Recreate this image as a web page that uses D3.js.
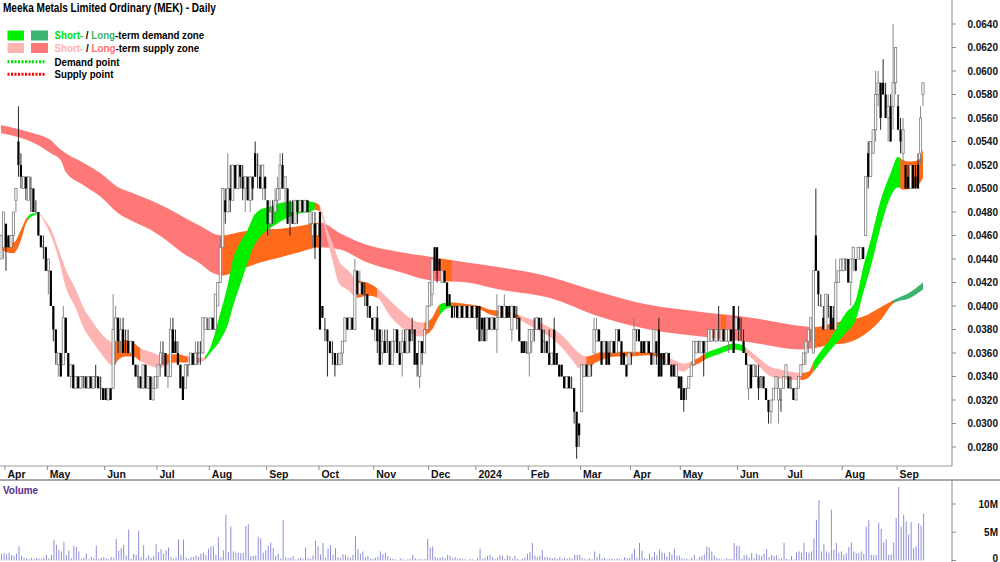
<!DOCTYPE html>
<html>
<head>
<meta charset="utf-8">
<script src="https://cdn.jsdelivr.net/npm/d3@7"></script>
<style>
  body { margin: 0; background: #fff; }
  svg { display: block; font-family: "Liberation Sans", Arial, sans-serif; }
</style>
</head>
<body>
<div id="container"></div>
<script>
// prices are in units of A$0.001, volume in millions
const title = "Meeka Metals Limited Ordinary (MEK) - Daily";
const startDate = "2023-03-30";
const holidays = ["2023-04-07", "2023-04-10", "2023-04-25", "2023-06-12", "2023-12-25", "2023-12-26",
  "2024-01-01", "2024-01-26", "2024-03-29", "2024-04-01", "2024-04-25", "2024-06-10"];

// [open, high, low, close] per trading day
const bars = [
  [44,46,44,46],[45,48,44,48],
  [47,47,43,45],[46,46,45,45],[45,46,45,46],[46,48,45,48],[49,50,48,50],[54,57,51,52],[52,53,50,51],[50,51,50,51],[51,51,49,50],[49,51,49,51],
  [50,51,48,50],[50,50,48,48],[48,49,48,48],[48,48,46,46],[46,46,45,45],[45,46,44,45],[45,45,43,43],
  [43,44,41,44],[43,43,40,40],[40,40,37,38],[38,38,35,36],[35,36,34,36],[36,36,34,34],[35,40,35,39],[39,39,36,36],[36,36,34,34],[34,35,33,35],
  [35,35,33,33],[33,34,33,34],[34,34,33,33],[33,34,33,34],[34,34,33,34],[34,34,33,33],[33,34,33,34],[34,34,33,33],[33,34,33,34],[34,35,33,34],
  [34,34,33,33],[33,34,32,33],[33,33,32,32],
  [33,33,32,32],[32,33,32,33],[33,33,32,32],[33,41,33,38],[37,40,35,39],[39,39,36,37],[37,39,36,38],[38,39,36,36],[37,38,36,37],[37,38,36,36],
  [36,37,36,37],[37,37,35,35],[35,35,34,34],[34,35,33,34],[34,34,33,33],[33,35,33,35],[35,35,33,33],[33,34,33,34],[34,34,32,32],[32,34,32,33],[33,34,33,34],
  [34,35,33,35],[35,37,34,36],[36,37,35,36],[36,36,34,34],[34,35,33,35],[34,39,34,38],[38,39,36,36],[37,38,36,36],[36,37,35,35],[35,35,33,33],
  [34,34,32,32],[33,35,33,35],[35,35,34,35],[35,36,35,36],[36,36,35,35],[35,37,35,36],[36,37,35,36],[36,37,35,36],[36,39,36,39],[38,39,38,39],[38,39,38,38],
  [38,39,38,39],[39,39,38,38],[38,41,38,41],[40,42,40,42],[42,46,42,45],[45,50,45,50],[49,50,47,48],[48,53,48,50],[50,52,48,49],[49,52,49,52],
  [52,52,50,50],[50,52,50,52],[52,52,50,51],[51,52,49,50],[50,51,48,51],[51,51,49,49],[49,51,48,51],[51,51,49,50],[53,54,51,51],[52,53,50,52],
  [51,52,50,50],[50,52,49,52],[51,51,49,50],
  [49,49,46,47],[47,49,46,48],[48,49,47,48],[48,50,47,49],[49,51,48,50],[50,53,49,52],[52,53,50,50],[50,51,48,51],[50,50,47,47],[48,49,46,48],
  [48,49,47,47],[47,49,47,49],[49,49,47,48],[48,49,48,49],[49,49,48,48],[48,49,48,49],[49,49,48,48],[47,48,46,48],[46,48,45,47],[47,48,44,45],[46,47,45,47],
  [48,48,38,38],[40,40,39,39],[38,39,37,38],[38,38,34,37],[37,37,36,36],[36,37,35,36],[36,36,34,35],[35,36,35,35],[35,36,35,36],[36,37,35,37],
  [37,39,37,39],[39,39,38,38],[38,39,38,39],[39,39,38,38],[38,44,38,43],[43,43,41,41],[41,43,41,42],[42,42,41,41],[41,42,40,41],[41,41,39,40],
  [40,40,39,39],[39,39,38,38],
  [38,39,37,39],[39,40,36,37],[38,38,35,35],[36,38,35,37],[37,38,36,36],[37,38,36,37],[37,37,35,35],[35,37,35,37],[37,38,36,38],[38,38,36,36],
  [36,37,35,35],[36,38,34,37],[37,38,36,36],[36,38,36,38],[38,38,36,37],[38,39,37,38],[38,38,35,35],[36,36,34,35],[34,37,33,37],[37,37,35,36],
  [36,38,36,38],[38,40,38,40],
  [40,42,40,42],[41,44,40,44],[45,45,43,43],[45,45,42,43],[44,44,43,43],[42,43,42,43],[43,43,42,42],[42,42,40,40],[41,41,40,40],[40,40,39,39],
  [40,40,39,40],[40,40,39,39],[39,40,39,40],[40,40,39,39],[39,40,39,40],[40,40,39,39],[39,40,39,40],[40,40,39,39],[39,40,39,40],
  [40,40,38,39],[40,40,37,37],[39,39,37,38],[39,39,37,37],[38,39,37,39],[39,39,38,38],[38,39,38,39],[39,39,38,38],[38,41,36,39],[39,40,39,40],
  [40,40,39,39],[39,41,39,40],[40,40,39,39],[40,40,39,39],[38,40,37,40],[40,40,39,39],[39,40,38,39],[39,39,37,37],[37,37,36,36],[37,37,36,36],[36,37,36,36],
  [36,38,34,38],[37,38,36,38],[38,39,37,38],[38,39,38,39],[39,39,38,38],[38,39,36,36],[37,38,36,37],[37,37,36,36],[36,38,35,35],[35,36,35,36],
  [38,39,35,35],[36,36,35,35],[35,35,34,34],[35,35,34,34],[34,34,33,33],[33,34,33,34],[34,34,33,33],[33,34,33,33],[33,33,30,31],[31,31,27,28],[30,30,28,29],
  [31,35,31,35],[34,35,34,35],[35,35,34,34],[34,35,34,35],[35,35,34,35],[36,39,36,38],[37,39,37,38],[38,38,37,37],[37,37,35,35],[36,37,36,37],
  [37,37,35,35],[36,37,35,35],[36,37,36,37],[37,37,36,36],[36,38,36,38],[38,38,37,37],[37,37,35,35],[36,36,35,35],[35,35,34,34],[35,36,35,36],
  [36,36,35,36],[36,39,36,38],[38,38,37,38],[38,38,37,37],[37,37,36,36],[37,37,36,36],[36,37,36,37],[37,37,36,36],[36,36,35,35],[36,38,35,38],
  [37,37,35,36],[38,39,34,34],[36,36,34,34],[36,36,35,35],[35,36,35,36],[36,36,35,35],[35,35,34,34],[35,35,34,34],[34,35,34,35],[34,34,33,33],
  [34,34,32,32],[33,33,31,32],[33,33,32,33],[33,34,33,34],[34,35,34,35],[35,37,35,37],[36,37,36,37],[37,37,36,37],[36,37,36,37],[37,37,34,36],
  [36,37,36,37],[37,38,37,38],[37,38,37,38],[38,38,37,38],[37,38,37,38],[38,40,37,38],[37,38,37,38],[38,38,37,37],[37,38,37,38],[37,38,36,38],
  [38,38,37,37],[40,40,36,36],[38,39,38,39],
  [39,40,37,38],[38,39,37,38],[37,38,36,36],[36,36,35,35],[33,35,32,35],[35,35,33,33],[34,35,34,35],[34,35,34,34],[34,35,32,33],[34,34,33,34],
  [34,34,33,33],[33,33,32,32],[32,32,30,31],[31,32,30,32],[32,33,32,33],[33,34,33,34],[32,34,30,33],[32,33,31,32],[33,34,33,34],
  [34,35,34,35],[34,34,33,33],[33,34,33,33],[33,33,32,32],[32,33,32,33],[33,34,33,34],[34,35,34,35],[35,36,35,36],[36,37,35,37],[37,38,36,38],
  [38,39,37,39],[36,43,36,43],[46,50,43,43],[43,43,40,41],[40,41,40,40],[39,40,38,38],[38,41,38,41],[40,41,39,40],[40,40,38,38],[39,40,38,38],
  [38,44,38,42],[42,43,42,43],[43,44,43,44],
  [43,44,43,44],[44,44,43,44],[44,44,42,42],[42,44,40,44],[44,45,43,45],[44,44,43,43],[44,45,44,45],[44,45,44,45],[45,45,44,44],[46,51,46,51],
  [53,54,50,51],[51,54,51,54],[53,55,53,55],[55,60,54,58],[58,60,57,59],[59,59,55,56],[59,61,58,58],[58,59,56,56],[56,58,54,57],[57,58,54,54],
  [57,64,55,59],[59,62,58,62],
  [57,58,55,55],[55,56,53,54],[53,56,52,55],[52,52,50,50],[51,52,50,50],[50,52,50,52],[52,52,50,50],[51,52,50,50],[52,53,50,50],[53,57,52,56],
  [58,59,57,59]
];

const volumes = [
  1.2,1.3,1.1,1.4,1.0,0.8,1.2,2.5,0.8,0.5, 0.4,0.3,0.5,0.3,0.4,0.4,0.3,0.5,1.0,0.4,
  1.0,3.7,2.8,1.9,1.6,3.3,0.9,1.8,0.4,2.6, 2.4,1.6,0.3,0.5,1.2,0.2,0.6,0.4,2.6,0.3,
  0.5,0.6,0.4,0.3,0.6,0.5,3.8,1.7,2.2,2.8, 0.9,5.5,0.3,1.2,1.0,5.3,0.6,2.7,0.4,0.9,
  0.5,0.8,2.9,1.5,2.0,1.2,1.8,2.3,0.6,0.3, 0.5,3.7,1.0,3.7,0.5,0.3,0.6,0.6,0.9,0.7,
  1.2,1.4,0.9,2.1,2.5,2.5,1.0,4.1,0.6,1.8, 8.1,1.5,6.0,1.6,1.4,1.3,1.3,1.3,6.1,6.4,
  0.8,0.8,0.9,4.2,3.9,1.4,1.8,2.6,3.2,2.2, 0.8,1.2,0.4,7.2,0.6,0.4,0.5,0.8,0.2,0.4,
  0.5,0.3,2.3,0.4,0.3,0.9,3.5,2.5,1.1,3.1, 0.5,2.1,2.7,1.0,2.2,0.6,0.4,1.1,1.0,0.6,
  0.5,1.0,4.3,2.0,1.2,1.6,0.6,0.8,0.3,0.3, 0.5,0.7,1.6,1.1,1.4,0.8,0.4,0.3,0.2,0.1,
  0.4,0.2,0.1,0.2,0.3,1.0,0.4,0.2,0.3,0.2, 0.3,3.8,2.3,2.5,0.6,0.4,0.5,0.6,0.4,1.0,
  0.8,0.4,0.6,0.3,0.4,0.3,0.2,0.1,0.3,0.2, 0.1,0.4,2.1,0.3,0.5,0.8,1.0,0.6,0.3,0.5,
  1.0,0.8,0.3,0.9,0.8,0.3,0.8,0.3,0.2,0.3, 0.5,1.2,1.5,3.1,0.9,0.6,0.8,1.8,0.6,0.6,
  0.5,0.4,0.5,0.3,0.6,0.3,0.5,0.3,0.5,0.3, 1.0,1.0,1.0,0.5,0.3,0.2,0.4,0.2,1.6,0.6,
  1.2,0.3,0.5,0.2,0.3,0.3,0.2,0.4,0.3,0.2, 0.6,0.4,0.4,1.2,2.1,0.5,3.1,1.7,0.4,0.3,
  1.2,0.6,1.5,0.9,1.9,1.4,1.3,0.7,1.5,1.1, 2.1,0.8,0.9,0.4,0.3,0.3,0.2,0.5,1.0,0.2,
  0.6,0.8,1.1,2.5,2.3,1.6,0.9,0.5,0.3,0.2, 0.2,0.4,0.3,0.3,3.1,2.6,2.6,0.3,0.9,1.0,
  0.5,1.3,0.4,1.2,1.0,0.8,1.2,2.0,0.6,1.0, 0.8,0.9,0.3,0.4,3.1,0.3,0.2,0.8,0.2,1.4,
  1.6,1.3,3.1,1.5,1.4,1.6,3.9,7.2,10.7,1.6, 2.9,1.6,1.4,9.0,1.9,3.1,1.4,1.6,1.0,1.3,
  2.4,3.2,1.6,1.3,1.3,1.6,1.2,6.0,7.2,1.0, 1.0,1.0,6.7,5.6,3.2,3.7,1.0,1.1,3.2,7.5,
  13.0,6.0,8.1,6.9,4.6,6.8,2.2,2.5,6.6,6.2,8.3
];

// long-term zone edges, sampled at bar indices
const ltIdx = [0,8,13,20,24,26,33,40,47,53,60,67,73,80,85,89,96,104,113,120,128,136,147,160,172,187,200,220,240,260,281,301,321,326,333,340,346,353,358,365,370];
const ltTop = [55.4,55.0,54.7,54.1,53.3,53.0,52.2,51.3,50.1,49.6,49.0,48.3,47.6,46.8,46.2,46.0,46.3,46.5,46.6,46.8,47.1,46.2,45.2,44.6,44.2,43.7,43.3,42.5,41.2,40.1,39.5,39.0,38.3,38.2,38.5,38.8,39.1,39.9,40.5,41.2,42.0];
const ltBot = [54.7,54.3,53.9,53.0,52.4,51.4,50.3,49.3,47.9,47.2,46.5,45.5,44.5,43.6,42.8,42.6,43.1,43.7,44.2,44.6,45.0,44.8,43.7,42.9,42.2,42.0,41.4,40.7,39.1,38.0,37.4,36.9,36.3,36.4,36.7,36.9,37.5,38.8,40.2,40.7,41.4];
const ltStates = [[0,89,"supply"],[89,128,"neutral"],[128,177,"supply"],[177,181,"neutral"],[181,289,"supply"],
  [289,291,"neutral"],[291,326,"supply"],[326,358,"neutral"],[358,370,"demand"]];

// short-term zone edges
const stIdx = [0,2,5,8,10,13,15,18,20,23,26,30,33,37,40,43,45,47,50,53,56,60,64,67,71,75,78,81,84,88,91,93,96,99,101,104,107,110,113,117,120,124,126,128,131,133,136,139,143,147,151,156,160,164,168,170,173,176,179,181,186,192,196,200,204,208,214,220,224,227,230,232,235,238,242,247,252,260,267,270,274,276,280,283,288,294,297,301,305,309,313,317,321,324,326,333,339,343,346,349,353,357,360,362,365,368,370];
const stTop = [45.8,45.8,45.4,46.5,47.4,47.9,47.9,47.2,46.6,44.9,43.1,41.4,39.9,38.6,37.7,37.1,36.9,37.0,37.1,36.9,36.4,36.1,35.8,35.9,35.9,35.7,35.6,35.6,36.5,39.4,41.8,43.9,45.4,46.5,47.5,48.2,48.4,48.6,48.8,48.9,49.0,48.9,48.8,48.5,46.5,45.4,43.7,43.1,42.2,42.0,41.5,40.5,39.7,39.0,38.6,38.6,39.0,40.1,40.3,40.3,40.2,40.0,39.7,39.6,39.5,39.2,38.8,38.2,37.7,37.1,36.4,36.0,35.7,35.9,36.1,36.1,36.1,36.1,35.7,35.4,35.1,35.2,35.6,36.0,36.4,36.8,36.7,36.1,35.4,34.8,34.6,34.4,34.3,34.4,35.2,37.3,39.4,40.5,43.3,45.6,49.0,51.3,52.7,52.4,52.3,52.4,53.3];
const stBot = [44.8,44.6,44.5,45.6,47.0,47.7,47.8,46.9,46.0,44.1,41.6,39.8,38.2,36.9,36.0,35.2,34.9,35.4,35.7,35.7,35.3,34.9,34.7,35.1,35.2,35.2,35.2,35.3,36.0,37.1,38.4,39.9,41.8,43.7,44.9,45.9,46.5,46.9,47.3,47.7,47.9,48.0,48.2,48.0,45.6,43.9,41.8,41.4,40.7,40.9,40.7,39.2,38.3,37.7,37.4,37.5,38.0,39.2,39.8,39.9,39.8,39.7,39.3,39.1,39.1,38.8,38.1,37.4,36.7,36.0,35.2,34.7,34.6,35.1,35.5,35.7,35.7,35.8,35.3,34.8,34.4,34.7,35.1,35.5,35.9,36.3,36.2,35.6,34.7,34.0,33.8,33.7,33.7,33.9,34.4,36.3,37.7,38.8,41.1,43.3,46.7,49.3,50.1,49.9,50.0,50.3,50.9];
const stStates = [[0,11,"neutral"],[11,15,"demand"],[15,46,"supply"],[46,56,"neutral"],[56,66,"supply"],[66,75,"neutral"],
  [75,82,"supply"],[82,126,"demand"],[126,128,"neutral"],[128,143,"supply"],[143,151,"neutral"],[151,170,"supply"],
  [170,176,"neutral"],[176,181,"demand"],[181,208,"neutral"],[208,235,"supply"],[235,267,"neutral"],[267,277,"supply"],
  [277,283,"neutral"],[283,299,"demand"],[299,321,"supply"],[321,326,"neutral"],[326,361,"demand"],[361,370,"neutral"]];

// supply point marker: [bar index, low, high]
const supplyPoints = [[175, 42.4, 44.1]];

const priceTicks = [28,30,32,34,36,38,40,42,44,46,48,50,52,54,56,58,60,62,64];
const volumeTicks = [0, 5, 10];
const volumeTickLabels = ["0", "5M", "10M"];

const zoneColors = {
  short: { demand: "#00f000", supply: "#ffb4b4", neutral: "#ff6a1a" },
  long:  { demand: "#3cb371", supply: "#ff7878", neutral: "#ff6a1a" }
};

const W = 1000, H = 562;
const axisX = 952, priceBottom = 466, volTop = 480;

const svg = d3.select("#container").append("svg").attr("width", W).attr("height", H);
const defs = svg.append("defs");

function tradingDays(start, n) {
  const hol = new Set(holidays);
  const fmt = d3.timeFormat("%Y-%m-%d");
  const out = [];
  let d = d3.timeParse("%Y-%m-%d")(start);
  while (out.length < n) {
    const wd = d.getDay();
    if (wd !== 0 && wd !== 6 && !hol.has(fmt(d))) out.push(d);
    d = d3.timeDay.offset(d, 1);
  }
  return out;
}
const dates = tradingDays(startDate, bars.length);

const x = d3.scaleLinear().domain([0, bars.length - 1]).range([1, 923]);
const y = d3.scaleLinear().domain([28, 64]).range([447, 24]);
const yv = d3.scaleLinear().domain([0, 10]).range([560.5, 504]);

// zones
function drawZone(idx, top, bot, states, kind) {
  const pts = idx.map((b, i) => ({ b, top: top[i], bot: bot[i] }));
  const area = d3.area().x(d => x(d.b)).y0(d => y(d.bot)).y1(d => y(d.top)).curve(d3.curveMonotoneX);
  const last = bars.length - 1;
  states.forEach(([s, e, st], k) => {
    const id = `clip-${kind}-${k}`;
    const x0 = s === 0 ? 0 : x(s) - 0.3;
    const x1 = e >= last ? axisX : x(e) + 0.3;
    defs.append("clipPath").attr("id", id).append("rect")
      .attr("x", x0).attr("y", 0).attr("width", x1 - x0).attr("height", priceBottom);
    svg.append("path").attr("d", area(pts))
      .attr("fill", zoneColors[kind][st]).attr("clip-path", `url(#${id})`);
  });
}
drawZone(ltIdx, ltTop, ltBot, ltStates, "long");
drawZone(stIdx, stTop, stBot, stStates, "short");

svg.selectAll("line.spt").data(supplyPoints).join("line").attr("class", "spt")
  .attr("x1", d => x(d[0])).attr("x2", d => x(d[0])).attr("y1", d => y(d[1])).attr("y2", d => y(d[2]))
  .attr("stroke", "#ff2020").attr("stroke-width", 1.5).attr("stroke-dasharray", "2,1.5");

// candles
const up = d => d[3] > d[0];
const plot = svg.append("g");
plot.selectAll("line.wick").data(bars).join("line").attr("class", "wick")
  .attr("x1", (d, i) => x(i)).attr("x2", (d, i) => x(i))
  .attr("y1", d => y(d[1])).attr("y2", d => y(d[2]))
  .attr("stroke", d => up(d) ? "#7c7c7c" : "#111").attr("stroke-width", 0.9);
plot.selectAll("rect.body").data(bars).join("rect").attr("class", "body")
  .attr("x", (d, i) => x(i) - 1.1).attr("width", 2.2)
  .attr("y", d => y(Math.max(d[0], d[3])) - (d[0] === d[3] ? 0.5 : 0))
  .attr("height", d => Math.max(1, Math.abs(y(d[0]) - y(d[3]))))
  .attr("fill", d => up(d) ? "#fff" : (d[0] === d[3] ? "#555" : "#000"))
  .attr("stroke", d => up(d) ? "#7c7c7c" : "none").attr("stroke-width", 0.8);

// price axis
svg.append("line").attr("x1", axisX).attr("x2", axisX).attr("y1", 0).attr("y2", priceBottom).attr("stroke", "#8a8a8a");
svg.selectAll("line.ptick").data(priceTicks).join("line").attr("class", "ptick")
  .attr("x1", axisX).attr("x2", axisX + 4).attr("y1", d => y(d)).attr("y2", d => y(d)).attr("stroke", "#8a8a8a");
svg.selectAll("text.plabel").data(priceTicks).join("text").attr("class", "plabel")
  .attr("x", 998).attr("y", d => y(d) + 3.6).attr("text-anchor", "end")
  .attr("font-size", 10).attr("font-weight", "bold").attr("fill", "#111")
  .text(d => (d / 1000).toFixed(4));

// date band
svg.append("line").attr("x1", 0).attr("x2", axisX).attr("y1", priceBottom).attr("y2", priceBottom).attr("stroke", "#9a9a9a");
svg.append("line").attr("x1", 0).attr("x2", W).attr("y1", volTop).attr("y2", volTop).attr("stroke", "#555");
const monthStarts = [];
dates.forEach((d, i) => {
  if (i > 0 && d.getMonth() !== dates[i - 1].getMonth()) monthStarts.push(i);
});
const monthLabel = d => d.getMonth() === 0 ? d3.timeFormat("%Y")(d) : d3.timeFormat("%b")(d);
svg.selectAll("line.mtick").data(monthStarts).join("line").attr("class", "mtick")
  .attr("x1", i => x(i) - 1).attr("x2", i => x(i) - 1).attr("y1", priceBottom).attr("y2", priceBottom + 4)
  .attr("stroke", "#8a8a8a");
svg.selectAll("text.mlabel").data(monthStarts).join("text").attr("class", "mlabel")
  .attr("x", i => x(i) + 1.5).attr("y", 477.5)
  .attr("font-size", 10.5).attr("font-weight", "bold").attr("fill", "#111")
  .text(i => monthLabel(dates[i]));

// text squeezed horizontally to the narrow face of the original
function squeezedText(parent, tx, ty, size, width, parts) {
  const t = parent.append("text").attr("font-size", size).attr("font-weight", "bold");
  parts.forEach(([s, c]) => t.append("tspan").attr("fill", c).text(s));
  const len = t.node().getComputedTextLength();
  t.attr("transform", `translate(${tx},${ty}) scale(${width / len},1)`);
  return t;
}

// volume
svg.append("line").attr("x1", axisX).attr("x2", axisX).attr("y1", volTop).attr("y2", H).attr("stroke", "#8a8a8a");
squeezedText(svg, 3, 493.5, 11, 35, [["Volume", "#5a2d8c"]]);
svg.selectAll("line.vbar").data(volumes).join("line").attr("class", "vbar")
  .attr("x1", (d, i) => x(i) + 0.6).attr("x2", (d, i) => x(i) + 0.6)
  .attr("y1", yv(0)).attr("y2", d => yv(d))
  .attr("stroke", "#8e8ed8").attr("stroke-width", 1);
svg.selectAll("line.vtick").data(volumeTicks).join("line").attr("class", "vtick")
  .attr("x1", axisX).attr("x2", axisX + 4).attr("y1", d => yv(d)).attr("y2", d => yv(d)).attr("stroke", "#8a8a8a");
svg.selectAll("text.vlabel").data(volumeTicks).join("text").attr("class", "vlabel")
  .attr("x", 998).attr("y", d => Math.min(yv(d) + 3.6, 561.5)).attr("text-anchor", "end")
  .attr("font-size", 10).attr("font-weight", "bold").attr("fill", "#111")
  .text((d, i) => volumeTickLabels[i]);

// title and legend
squeezedText(svg, 3, 11.7, 12, 213, [[title, "#000"]]);

const legend = svg.append("g");
[[zoneColors.short.demand, zoneColors.long.demand, 30.5], [zoneColors.short.supply, zoneColors.long.supply, 43]]
  .forEach(([c1, c2, ry]) => {
    legend.append("rect").attr("x", 7.5).attr("y", ry).attr("width", 16.5).attr("height", 10).attr("fill", c1);
    legend.append("rect").attr("x", 31).attr("y", ry).attr("width", 17).attr("height", 10).attr("fill", c2);
  });
squeezedText(legend, 54.5, 39.2, 11.5, 150, [["Short-", "#00e000"], [" / ", "#000"], ["Long", "#3cb371"], ["-term demand zone", "#000"]]);
squeezedText(legend, 54.5, 52.3, 11.5, 145, [["Short-", "#ffb0b0"], [" / ", "#000"], ["Long", "#ff6e6e"], ["-term supply zone", "#000"]]);
squeezedText(legend, 54.5, 65.5, 11.5, 65, [["Demand point", "#000"]]);
squeezedText(legend, 54.5, 77.8, 11.5, 59, [["Supply point", "#000"]]);
legend.append("line").attr("x1", 7.5).attr("x2", 45).attr("y1", 61.7).attr("y2", 61.7)
  .attr("stroke", "#00e000").attr("stroke-width", 3).attr("stroke-dasharray", "2,1.5");
legend.append("line").attr("x1", 7.5).attr("x2", 45).attr("y1", 74.3).attr("y2", 74.3)
  .attr("stroke", "#ff0000").attr("stroke-width", 3).attr("stroke-dasharray", "2,1.5");
</script>
</body>
</html>
